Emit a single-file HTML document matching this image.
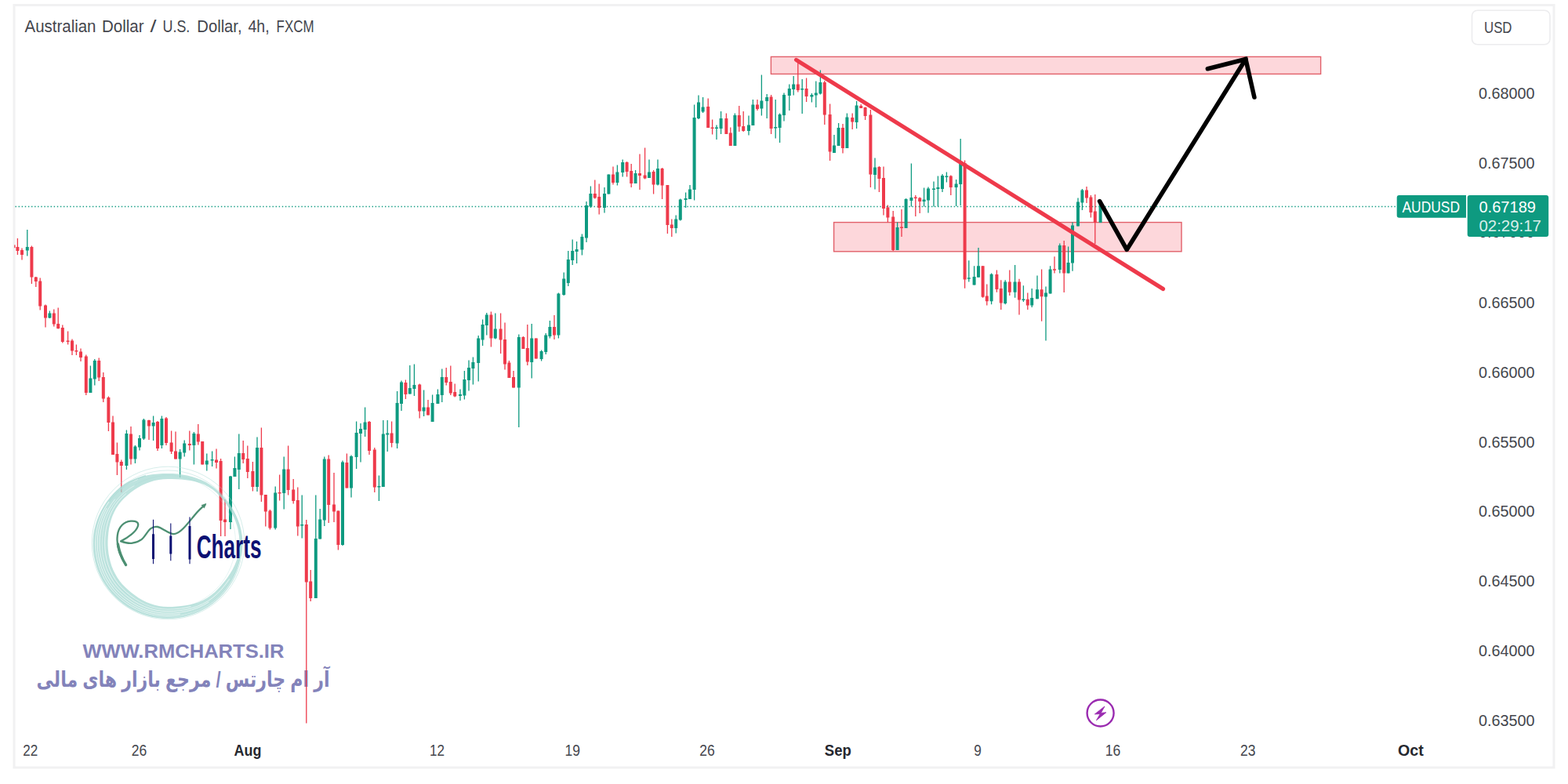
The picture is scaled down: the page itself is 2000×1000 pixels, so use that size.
<!DOCTYPE html>
<html><head><meta charset="utf-8"><title>AUDUSD</title>
<style>html,body{margin:0;padding:0;background:#fff;width:2000px;height:1000px;overflow:hidden}</style></head>
<body>
<svg width="2000" height="1000" viewBox="0 0 2000 1000" style="position:absolute;left:0;top:0;font-family:'Liberation Sans',sans-serif">
<rect width="2000" height="1000" fill="#fff"/>
<rect x="18" y="6.5" width="1964" height="972.5" fill="none" stroke="#f1f1f2" stroke-width="3"/>
<path d="M19.5 263.5H1782" stroke="#0e9a80" stroke-width="1.3" stroke-dasharray="1.4 2.7" fill="none"/>
<text x="105.4" y="838.5" font-size="24.8" font-weight="700" fill="#8383ba" textLength="257" lengthAdjust="spacingAndGlyphs">WWW.RMCHARTS.IR</text>
<text x="233.5" y="876.3" font-size="28" font-weight="700" fill="#8383ba" text-anchor="middle" direction="rtl" textLength="374" lengthAdjust="spacingAndGlyphs" style="font-family:'Liberation Sans','DejaVu Sans',sans-serif">آر ام چارتس / مرجع بازار های مالی</text>
<rect x="983.4" y="72.4" width="701.2" height="22" fill="#fdd7db" stroke="#e2606a" stroke-width="1.4"/>
<rect x="1063.6" y="283.6" width="443.4" height="37.2" fill="#fdd7db" stroke="#e2606a" stroke-width="1.4"/>
<path d="M22.4 304V325M28 316.4V331.6M40.4 313.6V362M45.8 353V366M51.2 354.4V395.6M58 388.6V417.6M68.8 394.4V416.4M74.2 392.4V419.4M79.8 414.4V437.6M86.6 422.6V439.6M92 432.4V453M97.4 439.4V453M103 444.6V461M109.8 452.4V504M126.2 456.4V486M131.8 475V513M138.4 505.6V550M144 530.4V580M149.4 564.4V606M154.8 586.4V628M167 544V592.4M190 535.4V561M201 537V575M212 532V568M218.6 549.6V579M224 550.4V585.6M241.8 549.6V574.4M252.8 541V567.6M258.2 563V592.4M276 572.4V597.6M281.6 585V684M287 637V684M310.2 562V591M315.8 568.4V610M322.4 589V626.4M333.4 545.4V640M338.8 631V671.6M344.4 650V675.6M356.6 605.6V638.4M367.6 568.4V631.6M374.2 611V642.4M379.8 621.6V683.6M390.8 663V922.4M396.2 727V767M419.2 580.4V667M426 603V666M431.4 651.6V701.6M442.4 578.4V622.4M471 537V580M477.8 571V628M499.6 537.4V570.4M517.4 484.4V509M535.2 489.6V533.6M546 510V529.6M569.2 469V491.6M574.8 466.4V504M580.2 489.6V506.4M626.4 397.6V442.4M638.6 399.6V451M644 411.6V471.6M649.4 460V482M655 473V494.4M667.4 429V445M672.8 414V466M683.8 431.6V457.6M707 402V433M758.8 229.6V253.6M764.2 234.4V273.6M782 212.4V235.6M799.6 206V225.6M805.2 209V239M816 196.4V242M822.6 188.4V228.4M833.6 217V247.6M844.6 214V254M851.4 236V298M856.8 279.6V302M903.2 125.6V163M908.6 152.4V171.6M926.4 144.4V171M931.8 162.4V186M942.8 135V168M948.2 142V168M966 127V141M983.6 121V171M1017.8 75.6V117.6M1028.6 99.6V130M1051.8 103V159M1058.6 132.4V205M1075 158V195.6M1087.2 144.4V165M1098.2 133V138M1103.6 136.4V153M1110.4 140V239M1121.4 212V245M1127 212.4V274.4M1132.4 261.6V283.6M1139.2 269V320M1150 267V302M1167.8 249V276M1173.2 251.6V272M1212.8 223.6V249M1230.6 204.4V367.8M1253.6 339.2V379.8M1258.8 362.6V389.6M1271.4 344.6V372.8M1276.8 357.2V395M1287.8 344.6V377M1300 355.8V401.6M1310.8 373.4V395M1328.6 343.4V409.8M1345 327.2V348.6M1357.2 307V373M1386 238V259M1391.4 249V277.6M1396.8 248V311" stroke="#ee3a4b" stroke-width="1.3" fill="none"/>
<path d="M20.4 315h4v5h-4zM26 319h4v6h-4zM38.4 315h4v38.6h-4zM43.8 353.4h4v5.6h-4zM49.2 358.6h4v31.8h-4zM56 389.6h4v16h-4zM66.8 399.6h4v14h-4zM72.2 413h4v6h-4zM77.8 418h4v18h-4zM84.6 434.5h4v1.6h-4zM90 434.4h4v13.2h-4zM95.4 447h4v1.6h-4zM101 448.6h4v7.4h-4zM107.8 454.4h4v46.6h-4zM124.2 460h4v21.6h-4zM129.8 481h4v27.4h-4zM136.4 507h4v32h-4zM142 538.4h4v41.6h-4zM147.4 579h4v10.6h-4zM152.8 589h4v5h-4zM165 553.6h4v32h-4zM188 536h4v7.6h-4zM199 538h4v34h-4zM210 533.6h4v31.4h-4zM216.6 564.4h4v11.6h-4zM222 575.6h4v10h-4zM239.8 566h4v2h-4zM250.8 553.6h4v10h-4zM256.2 563h4v29.4h-4zM274 586.4h4v3.6h-4zM279.6 588h4v76h-4zM285 662.4h4v3.6h-4zM308.2 578h4v8h-4zM313.8 585h4v17h-4zM320.4 601h4v20h-4zM331.4 571h4v60.6h-4zM336.8 631h4v21.4h-4zM342.4 651.6h4v22h-4zM354.6 628h4v1.6h-4zM365.6 598.4h4v26.6h-4zM372.2 624.4h4v14.6h-4zM377.8 638h4v33.6h-4zM388.8 669h4v73.4h-4zM394.2 741.6h4v21.4h-4zM417.2 585.6h4v58.4h-4zM424 643.6h4v8.8h-4zM429.4 651.6h4v43.4h-4zM440.4 590h4v32.4h-4zM469 538h4v37h-4zM475.8 573.6h4v48h-4zM497.6 552.4h4v12.6h-4zM515.4 488h4v15h-4zM533.2 490.4h4v34h-4zM544 519.6h4v10h-4zM567.2 481h4v7h-4zM572.8 487h4v14.6h-4zM578.2 500h4v5.6h-4zM624.4 401.6h4v30h-4zM636.6 419.6h4v14h-4zM642 433h4v31.4h-4zM647.4 462.4h4v19.6h-4zM653 481h4v13.4h-4zM665.4 430h4v15h-4zM670.8 444h4v17.6h-4zM681.8 431.6h4v26h-4zM705 417h4v10.6h-4zM756.8 247h4v5.4h-4zM762.2 251h4v14h-4zM780 222.4h4v10.6h-4zM797.6 207h4v12h-4zM803.2 218h4v16h-4zM814 221h4v3h-4zM820.6 223.6h4v4h-4zM831.6 219h4v16.6h-4zM842.6 215h4v21.4h-4zM849.4 236h4v51h-4zM854.8 286.4h4v4.6h-4zM901.2 136h4v27h-4zM906.6 162.4h4v1.6h-4zM924.4 151h4v20h-4zM929.8 169.6h4v16.4h-4zM940.8 147h4v14.6h-4zM946.2 161h4v6h-4zM964 133.6h4v5.4h-4zM981.6 123.6h4v40.4h-4zM1015.8 107.6h4v7.4h-4zM1026.6 113h4v10h-4zM1049.8 105h4v41.4h-4zM1056.6 146h4v47.6h-4zM1073 163h4v26h-4zM1085.2 150h4v5.6h-4zM1096.2 135h4v3h-4zM1101.6 137h4v11h-4zM1108.4 146.4h4v76h-4zM1119.4 213h4v15h-4zM1125 227h4v39h-4zM1130.4 264.4h4v13.2h-4zM1137.2 276.4h4v42.6h-4zM1148 289.5h4v1.6h-4zM1165.8 251.6h4v1.4h-4zM1171.2 252.4h4v4.6h-4zM1210.8 224.4h4v14.6h-4zM1228.6 208h4v148.6h-4zM1251.6 339.2h4v39.6h-4zM1256.8 377.6h4v6.6h-4zM1269.4 350h4v19h-4zM1274.8 368h4v18.6h-4zM1285.8 359.6h4v13.2h-4zM1298 359.6h4v22.8h-4zM1308.8 381.8h4v7.6h-4zM1326.6 369.2h4v9h-4zM1343 343.2h4v1.6h-4zM1355.2 313h4v35.6h-4zM1384 242.4h4v10h-4zM1389.4 251.6h4v19.4h-4zM1394.8 269.6h4v14.4h-4z" fill="#ee3a4b"/>
<path d="M34.8 293V326.6M63.4 396.6V406M115.4 466.4V501M120.8 458V491.6M161.4 548.4V599M172.4 568V591M178 555V574.4M183.4 534V561M195.6 530.4V562M206.4 530.4V572M229.6 573V609M235.2 561.6V582.4M247.4 551V592.4M263.8 578.4V600.4M270.6 575.4V595M294 607V675M299.4 582.4V608M304.8 553.6V624M328 557.6V627M351.2 620.4V675.6M362.2 582.4V649.6M385.2 631.6V686.4M402.8 631.6V763M408.2 649V687.6M413.8 582.4V671M437 587.6V696M448 580.4V634.4M454.6 537.4V598M460 540V589.6M465.6 519.6V557M483.4 606.6V639M488.8 536V621M494.2 536V576M506.6 499V572M512 485.6V524M522.8 466V502.4M528.4 464.4V505M540.6 497.6V531M551.6 503.6V538M558.4 496.4V515M563.8 470.4V513M587 496.4V511M592.4 473V509.6M598 459.6V498.4M603.4 455.6V490.4M610.2 428V486.4M615.6 407.6V441M620.8 399V427.6M631.8 399.6V432.4M661.8 426.4V545M678.2 413V482.4M690.6 446.4V460.4M696.2 425V452M701.4 409V431.6M712.4 373.6V431.6M719.2 347.6V377M724.8 320V365M730.2 305.6V338M735.6 308V336M742.4 298.4V325.6M748 257V309M753.4 237.6V265M771 239V271.6M776.4 222.4V247.6M787.4 210.4V236.4M794.2 203.6V225.6M810.6 217V234M828 203.6V227M839 203.6V236.4M862.2 274.4V297.6M867.8 253.6V281.6M874.6 245.6V265M880 236V254M885.6 133.6V255.6M891 121.6V152M896.6 124V144M914 159.6V178M919.6 142V171M937.4 144.4V186M955 147.6V172.4M960.4 127V160M971.4 95.6V147.6M978.2 120V151M989.2 127V176.4M994.6 144.4V182M1000 118.4V154.4M1006.8 107.6V141M1012.2 97V121.6M1023.2 101V145M1035.4 119V130.4M1040.8 103.6V137M1046.4 89.6V120.4M1064 172V195M1069.6 157V186M1080.4 144.4V189M1092.6 129V164M1116 201.6V241.6M1144.6 283.6V319M1155.6 253V291M1162.4 208.4V263.6M1178.6 239.6V263.6M1184 238.4V271.6M1191 231.6V263.6M1196.4 224.4V263.6M1202 222V245M1207.4 219.6V232.4M1219.6 229V263M1225.2 177V262M1235.8 332.2V359.4M1242.6 339.2V363.4M1248 316V353.8M1264.6 348.6V388.2M1282.2 357.2V388.2M1294.6 338V379.8M1305.4 364.2V385M1316.2 368V392M1323 351.4V381.2M1334 365.4V434.6M1339.6 339.2V374.6M1351.8 310.4V348.6M1362.6 314.4V348.6M1368 283.6V345.8M1375 252.4V288.4M1380.4 241V268M1403.6 257V284" stroke="#0e9a80" stroke-width="1.3" fill="none"/>
<path d="M32.8 315h4v4.6h-4zM61.4 399.6h4v6h-4zM113.4 482.4h4v18.6h-4zM118.8 460h4v23.6h-4zM159.4 553h4v41h-4zM170.4 569.4h4v16.2h-4zM176 559h4v11.6h-4zM181.4 535.4h4v24.2h-4zM193.6 539h4v4.6h-4zM204.4 534h4v34h-4zM227.6 576.4h4v9.2h-4zM233.2 565.4h4v12.2h-4zM245.4 553h4v15h-4zM261.8 587.4h4v5h-4zM268.6 586h4v1.6h-4zM292 607.6h4v58.4h-4zM297.4 597h4v11h-4zM302.8 578h4v21h-4zM326 571h4v50h-4zM349.2 628.4h4v45.2h-4zM360.2 598.4h4v30.6h-4zM383.2 668.9h4v1.6h-4zM400.8 687h4v76h-4zM406.2 662.4h4v25.2h-4zM411.8 585.6h4v78h-4zM435 589.6h4v105.4h-4zM446 582h4v40.4h-4zM452.6 552h4v31h-4zM458 547h4v6h-4zM463.6 538.4h4v9.6h-4zM481.4 620h4v1.6h-4zM486.8 553.4h4v67.6h-4zM492.2 552.4h4v2h-4zM504.6 514h4v51.6h-4zM510 487.6h4v27.4h-4zM520.8 495h4v7.4h-4zM526.4 491h4v5h-4zM538.6 519.6h4v4.8h-4zM549.6 514h4v24h-4zM556.4 503h4v12h-4zM561.8 481h4v23h-4zM585 503h4v2h-4zM590.4 484h4v20.4h-4zM596 469h4v16h-4zM601.4 462h4v8h-4zM608.2 431.6h4v31.4h-4zM613.6 414h4v19.6h-4zM618.8 401.6h4v13.4h-4zM629.8 419.6h4v12h-4zM659.8 430h4v64.4h-4zM676.2 431.6h4v30.4h-4zM688.6 448h4v10h-4zM694.2 427.6h4v21.4h-4zM699.4 417h4v12h-4zM710.4 374.4h4v53.2h-4zM717.2 355.6h4v20.4h-4zM722.8 331h4v30h-4zM728.2 320h4v12h-4zM733.6 318h4v3h-4zM740.4 302h4v16.4h-4zM746 262h4v41.6h-4zM751.4 247h4v16.6h-4zM769 247h4v18h-4zM774.4 222.4h4v25.2h-4zM785.4 219.6h4v13.4h-4zM792.2 207h4v13h-4zM808.6 221h4v13h-4zM826 219.6h4v7.4h-4zM837 215h4v20.6h-4zM860.2 279.6h4v11.4h-4zM865.8 254.4h4v26h-4zM872.6 253h4v2h-4zM878 241.6h4v12.4h-4zM883.6 150h4v92h-4zM889 130.4h4v20.6h-4zM894.6 136.4h4v6h-4zM912 162.4h4v1.6h-4zM917.6 151h4v13h-4zM935.4 147h4v39h-4zM953 159.6h4v7.4h-4zM958.4 133.6h4v26.4h-4zM969.4 128.4h4v10h-4zM976.2 124h4v5h-4zM987.2 162h4v1.6h-4zM992.6 146h4v17h-4zM998 121h4v26h-4zM1004.8 113h4v9h-4zM1010.2 107.6h4v6.4h-4zM1021.2 113h4v1.4h-4zM1033.4 121h4v2.6h-4zM1038.8 118.4h4v3.2h-4zM1044.4 105h4v14.6h-4zM1062 185.6h4v9.4h-4zM1067.6 163h4v23h-4zM1078.4 149.6h4v39.4h-4zM1090.6 134.4h4v21.6h-4zM1114 213.6h4v9.4h-4zM1142.6 290h4v29h-4zM1153.6 254h4v37h-4zM1160.4 252h4v4h-4zM1176.6 254.4h4v2.6h-4zM1182 240.4h4v15.2h-4zM1189 240.4h4v1.6h-4zM1194.4 239h4v2h-4zM1200 224h4v17h-4zM1205.4 224.4h4v1.6h-4zM1217.6 234.4h4v4.6h-4zM1223.2 207.6h4v27.4h-4zM1233.8 354.2h4v1.6h-4zM1240.6 353h4v10.4h-4zM1246 339.2h4v14.6h-4zM1262.6 349.8h4v34.4h-4zM1280.2 359.6h4v27.4h-4zM1292.6 359.6h4v13.2h-4zM1303.4 381.4h4v1.6h-4zM1314.2 380h4v9.6h-4zM1321 369.2h4v12h-4zM1332 373.4h4v5.2h-4zM1337.6 343.4h4v31.2h-4zM1349.8 313h4v31h-4zM1360.6 335h4v13.6h-4zM1366 287.6h4v48h-4zM1373 257.6h4v30.8h-4zM1378.4 242.4h4v16h-4zM1401.6 257h4v27h-4z" fill="#0e9a80"/>
<rect x="18.2" y="312.4" width="1.3" height="3.8" fill="#ee3a4b"/>
<path d="M1015.6 76.4L1483.5 368.5" stroke="#ee3a4b" stroke-width="5.2" stroke-linecap="round" fill="none"/>
<path d="M1402.6 256.6L1437.2 318.4L1588.9 75.5" stroke="#000" stroke-width="5.6" stroke-linecap="round" stroke-linejoin="round" fill="none"/>
<path d="M1540.4 87.7L1588.9 75.5L1599.9 124" stroke="#000" stroke-width="5.6" stroke-linecap="round" stroke-linejoin="miter" stroke-miterlimit="10" fill="none"/>
<path d="M214 604L207.8 604.1L201.6 604.5L195.3 605.1L189.1 606.1L182.9 607.4L176.7 609.2L170.6 611.4L164.7 614.1L159 617.3L153.7 621.1L148.7 625.4L144.1 630.1L139.9 635.1L135.9 640.3L132.3 645.8L129 651.5L126.1 657.5L123.7 663.6L121.7 670L120.1 676.4L119.1 683L118.6 689.7L118.6 696.3L119 703L119.9 709.6L121.2 716.1L123 722.6L125.2 728.9L127.9 735L131 740.9L134.5 746.6L138.4 752.1L142.7 757.2L147.3 762.1L152.3 766.5L157.6 770.7L163.1 774.4L168.9 777.8L175 780.7L181.2 783.2L187.5 785.3L194 786.9L200.6 788.1L207.3 788.8L214 789L220.7 788.8L227.4 788.1L234 786.9L240.5 785.3L246.8 783.2L253 780.7L259.1 777.8L264.9 774.4L270.4 770.7L275.7 766.5L280.7 762.1L285.3 757.2L289.6 752.1L293.5 746.6L297 740.9L300.1 735L302.8 728.9L305 722.6L306.8 716.1L308.1 709.6L309 703L309.4 696.3L309.4 689.7L308.8 683L307.7 676.5L306 670.1L303.8 663.8L301.2 657.8L298.2 652L294.8 646.4L291 641L287 635.9L282.8 631.1L278.3 626.5L273.4 622.2L268.2 618.4L262.7 615.1L256.9 612.3L251 609.9L244.9 608L238.8 606.5L232.6 605.4L226.4 604.6L220.2 604.1zM214 611L208.3 611.2L202.6 611.9L197 613.1L191.6 614.7L186.2 616.7L181.1 619.1L176.1 621.8L171.4 624.8L166.9 628.1L162.5 631.7L158.4 635.5L154.6 639.5L151.1 643.9L148.1 648.5L145.5 653.4L143.3 658.5L141.5 663.7L140.1 669L139 674.3L138.3 679.6L137.8 685L137.5 690.3L137.5 695.7L137.9 701L138.5 706.3L139.5 711.6L140.8 716.8L142.4 721.9L144.4 726.9L146.8 731.8L149.5 736.5L152.6 741L156 745.2L159.8 749.1L163.8 752.8L168 756.3L172.4 759.6L176.9 762.7L181.7 765.5L186.7 768L191.9 770.1L197.3 771.7L202.8 773L208.4 773.7L214 774L219.7 773.9L225.3 773.6L231 773.1L236.8 772.3L242.5 771.3L248.2 769.8L253.8 767.9L259.3 765.5L264.5 762.6L269.5 759.1L274.1 755.2L278.3 750.9L282.4 746.4L286.3 741.8L290 736.9L293.4 731.7L296.6 726.4L299.4 720.7L301.7 714.9L303.5 708.8L304.8 702.5L305.4 696.2L305.4 689.8L304.9 683.4L303.9 677.2L302.4 671L300.4 664.9L297.9 659.1L295.1 653.4L291.9 648L288.4 642.8L284.6 637.8L280.5 633.1L276.2 628.6L271.4 624.6L266.2 621.2L260.7 618.3L254.9 616L249 614.3L243.1 613L237.2 612.2L231.3 611.6L225.5 611.2L219.7 611.1z" fill="#a6d9d3" fill-opacity=".74" fill-rule="evenodd"/>
<path d="M160.8 629.6L155.5 634.5L150.6 639.8L146.4 645.7L142.8 651.9L139.9 658.4L137.6 665.2L135.8 672.1L134.6 679L133.9 686L133.7 693L134 700L134.8 707L136.1 713.9L138 720.6L140.5 727.3L143.6 733.6L147.3 739.7L151.5 745.4L156.3 750.7L161.5 755.6L167 760.1L172.9 764.2L179.1 767.9L185.6 771L192.4 773.6L199.5 775.4L206.7 776.6L214 777L221.3 776.8L228.7 776.2L236 775.2L243.4 773.6M171.4 619.3L165.1 623.2L159.2 627.7L153.7 632.7L148.7 638.2L144.3 644.2L140.5 650.5L137.3 657.2L134.7 664.1L132.7 671.2L131.4 678.4L130.6 685.7L130.3 693L130.6 700.3L131.4 707.6L132.9 714.7L134.9 721.8L137.5 728.7L140.8 735.3L144.6 741.6L149 747.5L154 753L159.4 758L165.2 762.7L171.3 766.9L177.8 770.6L184.6 773.7L191.7 776.3L199 778.2L206.4 779.3L214 779.7L221.6 779.5L229.1 778.8L236.7 777.6L244.1 775.8L251.5 773.4L258.6 770.3L265.5 766.5L271.9 761.9L277.7 756.7L283.1 751L288.1 744.9L292.7 738.4M146.8 636.6L142.2 642.7L138.2 649.2L134.8 656.1L132 663.2L129.8 670.4L128.3 677.9L127.4 685.4L127 693L127.4 700.6L128.3 708.1L129.8 715.6L131.9 722.9L134.7 730L138.1 736.8L142.1 743.4L146.7 749.5L151.8 755.2L157.5 760.4L163.5 765.1L169.9 769.4L176.6 773.2L183.7 776.3L191 778.9L198.5 780.7L206.2 781.9L214 782.2L221.8 782L229.5 781.2L237.3 779.8L244.9 777.8L252.3 775.2L259.6 771.9L266.4 767.9M136.2 648.1L132.6 655L129.6 662.3L127.3 669.8L125.6 677.4L124.5 685.2L124.2 693L124.5 700.8L125.5 708.6L127.1 716.3L129.3 723.8L132.2 731.1L135.7 738.2L139.9 744.9L144.6 751.2L149.9 757.1L155.7 762.4L162 767.3L168.6 771.7L175.6 775.4L182.8 778.6L190.4 781.2L198.1 783L206 784.1L214 784.5L222 784.2L229.9 783.3M175.9 611.3L168.6 614.4L161.6 618.2L155.1 622.8L149.1 628.1L143.7 634L138.8 640.3L134.4 647L130.6 654.1L127.4 661.5L124.9 669.1L123 677L121.9 684.9L121.5 693L121.9 701.1L122.9 709.1L124.5 717L126.9 724.7L129.9 732.2L133.5 739.5L137.8 746.4L142.7 752.8L148.2 758.8L154.1 764.3L160.6 769.3L167.4 773.7L174.6 777.6L182.1 780.8L189.8 783.3L197.8 785.1L205.8 786.2L214 786.6L222.2 786.3L230.3 785.3L238.3 783.6L246.1 781.3L253.8 778.3L261.1 774.6L268.1 770.3L274.7 765.4L280.8 759.8L286.4 753.7L291.4 747.2L295.9 740.3L299.8 733L303 725.4L305.5 717.5L307.4 709.5" fill="none" stroke="#fff" stroke-opacity=".7" stroke-width=".9"/>
<g fill="none" stroke="#a6d9d3"><circle cx="214.5" cy="692.5" r="97.3" stroke-width=".8" stroke-opacity=".6"/><circle cx="214" cy="693.5" r="93.6" stroke-width=".8" stroke-opacity=".55"/><circle cx="215.5" cy="691.5" r="85" stroke-width=".7" stroke-opacity=".4"/><path d="M139 640A92 92 0 0 1 186 606.5" stroke-width="1.4" stroke-opacity=".7"/></g>
<path d="M160.3 720.4C152 708 148.5 694 149.8 683C151 672 158 665.5 166.7 664.7C173 664.2 177.5 666 175.9 671C174 678 163 686 154.1 690.4C160 692.5 165 693.5 169 692.7C174 691.8 178 690 180.5 688.1C185 684.5 188 677.5 192 674.3C195 672 198.5 671.5 201.2 672C205 672.8 207.5 675 210.4 676.6C214 678.8 218.5 681.5 222 681.2C226.5 680.8 230 677.8 233.5 674.3C238.5 669.3 243 663.5 247.3 658.2C252 652.5 257.5 647 261.5 643.8" stroke="#4c8f72" stroke-width="2.3" fill="none" stroke-linecap="round" stroke-linejoin="round"/>
<path d="M256.5 644.2L263.4 642L260.6 648.6z" fill="#4c8f72"/>
<path d="M160.6 720.6C155.5 712.5 152 703 150.4 694" stroke="#4c8f72" stroke-width="3.3" fill="none" stroke-linecap="round"/>
<g stroke="#0d1173" fill="none"><path d="M195.5 662.8V719.2M217.8 667.4V715.3M242 659.4V719.2" stroke-width="1.1"/><path d="M195.5 681.2V713M217.8 683.5V706.5M242 670.9V713.5" stroke-width="3"/></g>
<text x="250.7" y="711.5" font-size="42" font-weight="700" fill="#0d1173" textLength="82.8" lengthAdjust="spacingAndGlyphs">Charts</text>
<text x="31.6" y="41.2" font-size="21.4" fill="#44464d" textLength="90.9" lengthAdjust="spacingAndGlyphs">Australian</text>
<text x="130" y="41.2" font-size="21.4" fill="#44464d" textLength="53.6" lengthAdjust="spacingAndGlyphs">Dollar</text>
<text x="191.6" y="41.2" font-size="21.4" fill="#44464d" textLength="8" lengthAdjust="spacingAndGlyphs">/</text>
<text x="207.5" y="41.2" font-size="21.4" fill="#44464d" textLength="34.8" lengthAdjust="spacingAndGlyphs">U.S.</text>
<text x="251.3" y="41.2" font-size="21.4" fill="#44464d" textLength="57.3" lengthAdjust="spacingAndGlyphs">Dollar,</text>
<text x="316.5" y="41.2" font-size="21.4" fill="#44464d" textLength="27.1" lengthAdjust="spacingAndGlyphs">4h,</text>
<text x="352.6" y="41.2" font-size="21.4" fill="#44464d" textLength="48" lengthAdjust="spacingAndGlyphs">FXCM</text>
<rect x="1877.5" y="13.2" width="99.5" height="43.6" rx="7" fill="#fff" stroke="#ececee" stroke-width="1.6"/>
<text x="1893" y="42" font-size="20" fill="#44464d" textLength="35.5" lengthAdjust="spacingAndGlyphs">USD</text>
<text x="1886" y="126.1" font-size="19.6" fill="#44464d" textLength="71.5" lengthAdjust="spacingAndGlyphs">0.68000</text>
<text x="1886" y="215" font-size="19.6" fill="#44464d" textLength="71.5" lengthAdjust="spacingAndGlyphs">0.67500</text>
<text x="1886" y="303.1" font-size="19.6" fill="#44464d" textLength="71.5" lengthAdjust="spacingAndGlyphs">0.67000</text>
<text x="1886" y="392.8" font-size="19.6" fill="#44464d" textLength="71.5" lengthAdjust="spacingAndGlyphs">0.66500</text>
<text x="1886" y="481.7" font-size="19.6" fill="#44464d" textLength="71.5" lengthAdjust="spacingAndGlyphs">0.66000</text>
<text x="1886" y="570.6" font-size="19.6" fill="#44464d" textLength="71.5" lengthAdjust="spacingAndGlyphs">0.65500</text>
<text x="1886" y="659.4" font-size="19.6" fill="#44464d" textLength="71.5" lengthAdjust="spacingAndGlyphs">0.65000</text>
<text x="1886" y="748.3" font-size="19.6" fill="#44464d" textLength="71.5" lengthAdjust="spacingAndGlyphs">0.64500</text>
<text x="1886" y="837.2" font-size="19.6" fill="#44464d" textLength="71.5" lengthAdjust="spacingAndGlyphs">0.64000</text>
<text x="1886" y="926.1" font-size="19.6" fill="#44464d" textLength="71.5" lengthAdjust="spacingAndGlyphs">0.63500</text>
<text x="29.3" y="963.6" font-size="20" fill="#44464d" textLength="19" lengthAdjust="spacingAndGlyphs">22</text>
<text x="167.8" y="963.6" font-size="20" fill="#44464d" textLength="19.5" lengthAdjust="spacingAndGlyphs">26</text>
<text x="298.6" y="963.6" font-size="20" fill="#26282f" font-weight="700" textLength="34.8" lengthAdjust="spacingAndGlyphs">Aug</text>
<text x="547.9" y="963.6" font-size="20" fill="#44464d" textLength="19" lengthAdjust="spacingAndGlyphs">12</text>
<text x="720.6" y="963.6" font-size="20" fill="#44464d" textLength="19.5" lengthAdjust="spacingAndGlyphs">19</text>
<text x="892.2" y="963.6" font-size="20" fill="#44464d" textLength="19.5" lengthAdjust="spacingAndGlyphs">26</text>
<text x="1051.8" y="963.6" font-size="20" fill="#26282f" font-weight="700" textLength="34" lengthAdjust="spacingAndGlyphs">Sep</text>
<text x="1242.2" y="963.6" font-size="20" fill="#44464d" textLength="9.6" lengthAdjust="spacingAndGlyphs">9</text>
<text x="1409.8" y="963.6" font-size="20" fill="#44464d" textLength="19.5" lengthAdjust="spacingAndGlyphs">16</text>
<text x="1582" y="963.6" font-size="20" fill="#44464d" textLength="19.5" lengthAdjust="spacingAndGlyphs">23</text>
<text x="1782.9" y="963.6" font-size="20" fill="#26282f" font-weight="700" textLength="32.8" lengthAdjust="spacingAndGlyphs">Oct</text>
<path d="M1784.7 249H1870V277.7H1784.7a3 3 0 0 1-3-3V252a3 3 0 0 1 3-3z" fill="#0e9a80"/>
<rect x="1871.7" y="249" width="103.5" height="53" rx="3" fill="#0e9a80"/>
<text x="1788.5" y="270.6" font-size="19.6" fill="#fff" textLength="73.5" lengthAdjust="spacingAndGlyphs">AUDUSD</text>
<text x="1886.4" y="270.6" font-size="19.6" fill="#fff" textLength="72.6" lengthAdjust="spacingAndGlyphs">0.67189</text>
<text x="1886.4" y="295.2" font-size="19.6" fill="#fff" fill-opacity=".85" textLength="79.6" lengthAdjust="spacingAndGlyphs">02:29:17</text>
<circle cx="1403.6" cy="909.5" r="17" fill="#fff" stroke="#9a2bb0" stroke-width="2.4"/>
<path d="M1409 901L1396.4 910.9L1403.3 910.6L1398.5 918.7L1410.8 908.8L1404.2 909.4z" fill="#9a2bb0" stroke="#9a2bb0" stroke-width=".9" stroke-linejoin="round"/>
</svg>
</body></html>
